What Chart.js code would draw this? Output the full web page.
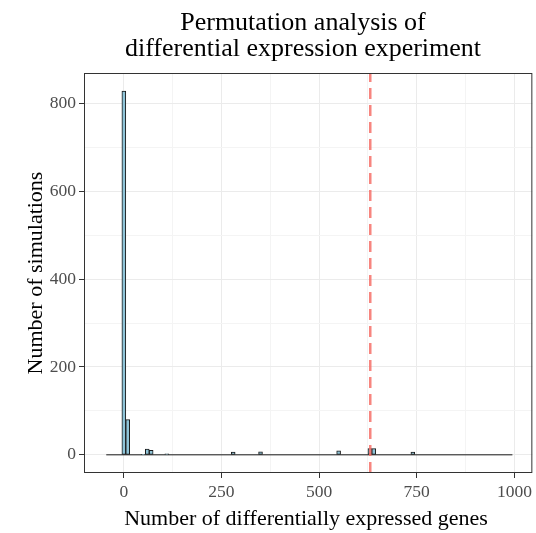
<!DOCTYPE html>
<html><head><meta charset="utf-8">
<script src="https://cdn.jsdelivr.net/npm/chart.js@4/dist/chart.umd.min.js"></script>
<style>html,body{margin:0;padding:0;background:#fff}#wrap{width:536px;height:533px}</style>
</head><body><div id="wrap"><canvas id="c" width="536" height="533"></canvas></div>
<script>
const titleLines = ['Permutation analysis of', 'differential expression experiment'];
const xTitle = 'Number of differentially expressed genes';
const yTitle = 'Number of simulations';
// histogram bins (centre of each 10-wide bin) that have non-zero counts
const binCenters = [0, 10, 50, 60, 70, 110, 280, 350, 550, 630, 640, 740];
const counts     = [828, 80, 1, 13, 10, 2, 6, 7, 9, 14, 14, 6];
const binRange = [-45, 995];     // extent of all (incl. empty) bins
const threshold = 631;           // observed number of DE genes
const xMajorTicks = [0, 250, 500, 750, 1000];
const xMinorTicks = [125, 375, 625, 875];
const yMajorTicks = [0, 200, 400, 600, 800];
const yMinorTicks = [100, 300, 500, 700];
const xLimits = [-102, 1046];
const yLimits = [-41.4, 869.4];

const SERIF = '"Liberation Serif", "DejaVu Serif", serif';

const barData = binCenters.map((x, i) => ({x: x, y: counts[i]}));
const baseData = [{x: binRange[0], y: 0}, {x: binRange[1], y: 0}];
const threshData = [{x: threshold, y: yLimits[0]}, {x: threshold, y: yLimits[1]}];

const decorPlugin = {
  id: 'decor',
  afterDatasetsDraw(chart) {
    const {ctx, chartArea: a} = chart;
    ctx.save();
    ctx.strokeStyle = '#333333';
    ctx.lineWidth = 1;
    ctx.strokeRect(a.left + 0.5, a.top + 0.5, a.right - a.left - 1, a.bottom - a.top - 1);
    ctx.restore();
  },
  afterDraw(chart) {
    const {ctx, chartArea: a} = chart;
    ctx.save();
    ctx.fillStyle = '#000';
    ctx.textAlign = 'center';
    ctx.textBaseline = 'alphabetic';
    ctx.font = '26px ' + SERIF;
    ctx.fillText(titleLines[0], 303, 30);
    ctx.fillText(titleLines[1], 303, 56);
    ctx.font = '22px ' + SERIF;
    ctx.fillText(xTitle, 306, 525);
    ctx.translate(42, (a.top + a.bottom) / 2);
    ctx.rotate(-Math.PI / 2);
    ctx.fillText(yTitle, 0, 0);
    ctx.restore();
  }
};

function tickSetter(major, minor) {
  return function (scale) {
    scale.ticks = major.concat(minor).sort((p, q) => p - q).map(v => ({value: v}));
  };
}
function isMajor(list, c) {
  return !!(c && c.tick && list.includes(c.tick.value));
}

new Chart(document.getElementById('c'), {
  data: {
    datasets: [
      {type: 'line', data: threshData, borderColor: 'rgba(246,112,104,0.85)', borderWidth: 2.5,
       borderDash: [11, 6], pointRadius: 0, order: 0},
      {type: 'bar', data: barData, backgroundColor: '#8FC4D8', borderColor: '#1a1a1a', borderWidth: 1,
       borderSkipped: false, barPercentage: 1, categoryPercentage: 1, order: 1},
      {type: 'line', data: baseData, borderColor: '#1a1a1a', borderWidth: 1, pointRadius: 0, order: 2}
    ]
  },
  options: {
    responsive: false,
    animation: false,
    devicePixelRatio: 1,
    layout: {padding: {top: 73, right: 3, bottom: 0, left: 0}},
    plugins: {legend: {display: false}, tooltip: {enabled: false}, title: {display: false}},
    scales: {
      x: {
        type: 'linear', min: xLimits[0], max: xLimits[1], offset: false,
        afterFit(s) { s.height = 60; },
        afterBuildTicks: tickSetter(xMajorTicks, xMinorTicks),
        border: {display: false},
        grid: {
          offset: false,
          color: c => isMajor(xMajorTicks, c) ? '#EBEBEB' : '#F4F4F4',
          lineWidth: 1,
          tickLength: 5,
          tickColor: c => isMajor(xMajorTicks, c) ? '#333333' : 'rgba(0,0,0,0)',
          tickWidth: 1
        },
        ticks: {
          autoSkip: false, maxRotation: 0, padding: 4, color: '#4D4D4D',
          font: {family: SERIF, size: 17.5},
          callback: v => xMajorTicks.includes(v) ? String(v) : ''
        }
      },
      y: {
        type: 'linear', min: yLimits[0], max: yLimits[1], offset: false,
        afterFit(s) { s.width = 84; },
        afterBuildTicks: tickSetter(yMajorTicks, yMinorTicks),
        border: {display: false},
        grid: {
          offset: false,
          color: c => isMajor(yMajorTicks, c) ? '#EBEBEB' : '#F4F4F4',
          lineWidth: 1,
          tickLength: 5,
          tickColor: c => isMajor(yMajorTicks, c) ? '#333333' : 'rgba(0,0,0,0)',
          tickWidth: 1
        },
        ticks: {
          autoSkip: false, padding: 3, color: '#4D4D4D',
          font: {family: SERIF, size: 17.5},
          callback: v => yMajorTicks.includes(v) ? String(v) : ''
        }
      }
    }
  },
  plugins: [decorPlugin]
});
</script>
</body></html>
